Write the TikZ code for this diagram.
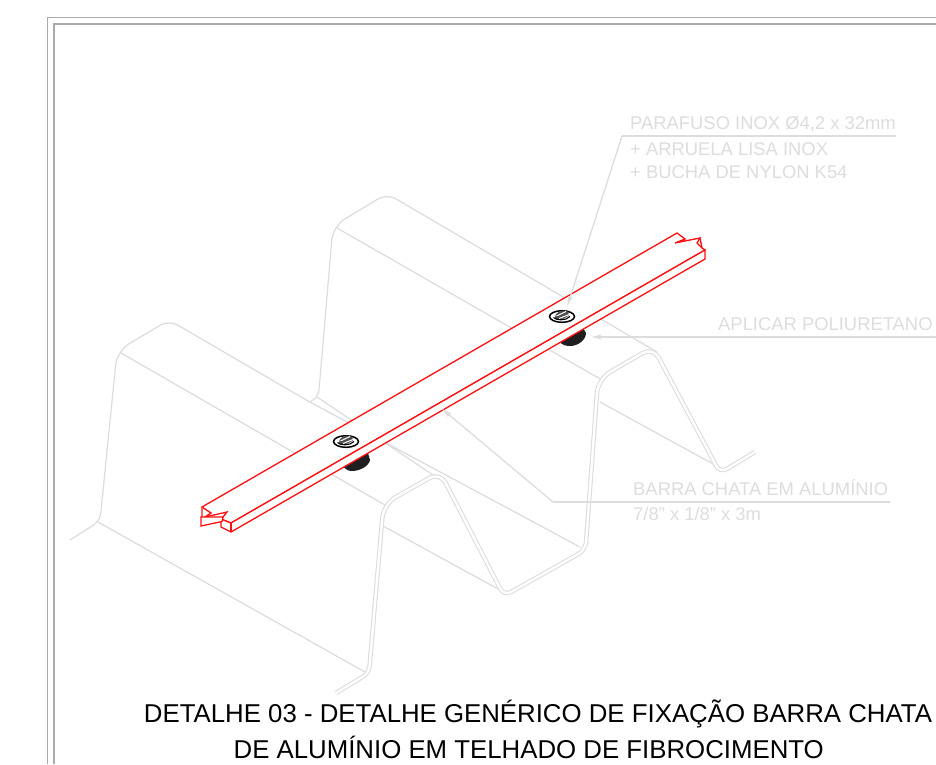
\documentclass[tikz,border=0pt]{standalone}
\usepackage{fontspec}
\setmainfont{Liberation Sans}
\usetikzlibrary{arrows.meta}
\definecolor{sheet}{HTML}{DCDCDC}
\definecolor{labelgray}{HTML}{DDDDDD}
\definecolor{framegray}{HTML}{ABABAB}
\definecolor{barred}{HTML}{FF0F0F}
\tikzset{
  x=1pt,y=-1pt,
  frameline/.style={draw=framegray,line width=1.2pt},
  sheetline/.style={draw=sheet,line width=1.2pt,line join=round},
  profile/.style={draw=sheet,double=white,double distance=2.4pt,line width=1.05pt,line join=round},
  barline/.style={draw=barred,line width=1.3pt,line join=miter,fill=white},
  leader/.style={draw=labelgray,line width=1.3pt},
  tipped/.style={leader,-{Latex[length=11pt,width=5pt,color=labelgray]}},
  note/.style={anchor=base west,inner sep=0pt,text=labelgray,font=\fontsize{18.4}{18.4}\selectfont},
  titletext/.style={anchor=base,inner sep=0pt,text=black,font=\fontsize{25.8}{26}\selectfont},
}
\begin{document}
\begin{tikzpicture}
\useasboundingbox (0,0) rectangle (936,764);
\fill[white] (0,0) rectangle (936,764);
% frame
\draw[frameline] (47.7,764) -- (47.7,17.7) -- (936,17.7);
\draw[frameline] (54,764) -- (54,24) -- (936,24);
% rear profiles
\draw[sheetline] (70,540) [rounded corners=8pt] -- (100,521) [rounded corners=14pt] -- (117,351) [rounded corners=10pt] -- (169,320) [sharp corners] -- (308,401);
\draw[sheetline] (310,402) [rounded corners=6pt] -- (318.5,396) [rounded corners=14pt] -- (333,226) [rounded corners=10pt] -- (387,193.6) [sharp corners] -- (657,352);
% ridge and valley lines
\coordinate (v1) at (98,522); \coordinate (v1e) at (365,672);
\coordinate (c1) at (121,353); \coordinate (c1e) at (385,505);
\coordinate (v2) at (308,401); \coordinate (v2e) at (580,547);
\coordinate (v3) at (317,397); \coordinate (v3e) at (433,475);
\coordinate (c2) at (337,228); \coordinate (c2e) at (602,380);
\coordinate (c3) at (383,526); \coordinate (c3e) at (500,590);
\coordinate (c4) at (600,402); \coordinate (c4e) at (715,465);
\foreach \a/\b in {v1/v1e,c1/c1e,v2/v2e,v3/v3e,c2/c2e,c3/c3e,c4/c4e}{\draw[sheetline] (\a) -- (\b);}
% front profile
\draw[profile] (336,693) [rounded corners=7pt] -- (369,673) [rounded corners=14pt] -- (383.5,504) [rounded corners=12pt] -- (440,472) [rounded corners=8pt] -- (504,596) [rounded corners=8pt] -- (585.5,550) [rounded corners=14pt] -- (598,379) [rounded corners=12pt] -- (653,347) [rounded corners=8pt] -- (720,473) [sharp corners] -- (755,452);
% washers below bar
\fill[black!88] (560,342) -- (583,328) -- (586,333) .. controls (586,340) and (578,346) .. (570,346) .. controls (566,346) and (562,345) .. (560,342) -- cycle;
\fill[black!88] (343,466) -- (368,453) -- (370,460) .. controls (369,466) and (360,471) .. (352,471) .. controls (348,471) and (345,469) .. (343,466) -- cycle;
% bar
\draw[barline] (202,507) -- (677,233) -- (685,239) -- (675,243) -- (700,238) -- (697,243) -- (702,248) -- (705,250) -- (231,523) -- (221,519) -- (223,517) -- (227,512) -- (205,517) -- (211,513) -- cycle;
\draw[barline] (700,238) -- (702,248);
\draw[barline] (221,519) -- (221,527) -- (231,532) -- (705,259) -- (705,250) -- (231,523) -- cycle;
\draw[barline] (231,523) -- (231,532);
\draw[barline] (202,507) -- (202,517) -- (201,517) -- (201,526) -- (222,521.5) -- (223,517) -- (205,517) -- (201,517);
% screws
\foreach \cx/\cy in {562/316.5,346/441.5}{
  \begin{scope}[shift={(\cx,\cy)}]
    \draw[black,line width=1.5pt,fill=white] (0,0) ellipse [x radius=12.5pt,y radius=5.8pt];
    \fill[black!70] (-7,1) .. controls (-7,-3) and (-3,-5.5) .. (2,-6) .. controls (6,-6) and (8,-3.5) .. (7,-1) -- (2,2) .. controls (-2,3) and (-6,3) .. (-7,1) -- cycle;
    \draw[white,line width=1pt] (-5.5,-0.5) -- (4,-5);
    \draw[white,line width=1pt] (-3,2) -- (7,-2);
    \draw[black,line width=1.1pt] (-8.5,1) .. controls (-6,4) and (4,4.5) .. (8,0);
  \end{scope}
}
% labels
\node[note] (n1) at (630,129) {PARAFUSO INOX Ø4,2 x 32mm};
\node[note] (n2) at (630,155) {+ ARRUELA LISA INOX};
\node[note] (n3) at (630,178) {+ BUCHA DE NYLON K54};
\node[note] (n4) at (718,330) {APLICAR POLIURETANO};
\node[note] (n5) at (633,495) {BARRA CHATA EM ALUMÍNIO};
\node[note] (n6) at (633,520) {7/8" x 1/8" x 3m};
\node[titletext] (t1) at (538,722) {DETALHE 03 - DETALHE GENÉRICO DE FIXAÇÃO BARRA CHATA};
\node[titletext] (t2) at (528.7,758) {DE ALUMÍNIO EM TELHADO DE FIBROCIMENTO};
% leaders
\coordinate (l1r) at (896,136); \coordinate (l1k) at (622,136); \coordinate (l1t) at (567,307);
\coordinate (l2r) at (936,337); \coordinate (l2t) at (590,337);
\coordinate (l3r) at (890,502); \coordinate (l3k) at (553,502); \coordinate (l3t) at (441,408);
\draw[leader] (l1r) -- (l1k);
\draw[tipped] (l1k) -- (l1t);
\draw[tipped] (l2r) -- (l2t);
\draw[leader] (l3r) -- (l3k);
\draw[tipped] (l3k) -- (l3t);
\end{tikzpicture}
\end{document}
